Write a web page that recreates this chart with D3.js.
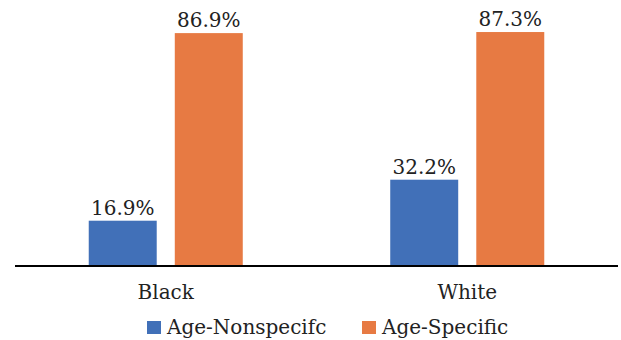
<!DOCTYPE html>
<html>
<head>
<meta charset="utf-8">
<script src="https://cdn.jsdelivr.net/npm/d3@7"></script>
<style>
  body { margin: 0; background: #fff; }
</style>
</head>
<body>
<svg id="chart" width="621" height="340" font-family="'DejaVu Serif', serif"></svg>
<script>
const categories = ['Black', 'White'];
const series = ['Age-Nonspecifc', 'Age-Specific'];
const nonspecific = [16.9, 32.2];
const specific = [86.9, 87.3];
const colors = ['#4170b8', '#e77a43'];

const svg = d3.select('#chart');
const left = 15, right = 618, baseline = 266;
const fontSize = 20;

const rows = categories.map((c, i) => ({ cat: c, values: [nonspecific[i], specific[i]] }));

const x0 = d3.scaleBand().domain(categories).range([left, right]).padding(0);
const x1 = d3.scaleBand().domain(series).range([0, x0.bandwidth()])
  .paddingInner(0.21).paddingOuter(0.857);
const y = d3.scaleLinear().domain([0, 100]).range([baseline, baseline - 268]);

const groups = svg.selectAll('.group')
  .data(rows)
  .enter()
  .append('g')
  .attr('class', 'group')
  .attr('transform', d => `translate(${x0(d.cat)},0)`);

groups.selectAll('rect')
  .data(d => d.values.map((v, i) => ({ key: series[i], value: v, i })))
  .enter()
  .append('rect')
  .attr('x', d => x1(d.key))
  .attr('y', d => y(d.value))
  .attr('width', x1.bandwidth())
  .attr('height', d => baseline - y(d.value))
  .attr('fill', d => colors[d.i]);

groups.selectAll('.val')
  .data(d => d.values.map((v, i) => ({ key: series[i], value: v })))
  .enter()
  .append('text')
  .attr('class', 'val')
  .attr('x', d => x1(d.key) + x1.bandwidth() / 2)
  .attr('y', d => y(d.value) - 6)
  .attr('text-anchor', 'middle')
  .attr('font-size', fontSize)
  .attr('fill', '#222')
  .text(d => `${d.value.toFixed(1)}%`);

svg.append('line')
  .attr('x1', left).attr('x2', right)
  .attr('y1', baseline).attr('y2', baseline)
  .attr('stroke', '#000')
  .attr('stroke-width', 2);

svg.selectAll('.cat')
  .data(categories)
  .enter()
  .append('text')
  .attr('class', 'cat')
  .attr('x', d => x0(d) + x0.bandwidth() / 2)
  .attr('y', 299)
  .attr('text-anchor', 'middle')
  .attr('font-size', fontSize)
  .attr('fill', '#222')
  .text(d => d);

const legendX = [147, 362];
const legend = svg.selectAll('.legend')
  .data(series)
  .enter()
  .append('g')
  .attr('class', 'legend')
  .attr('transform', (d, i) => `translate(${legendX[i]},321)`);

legend.append('rect')
  .attr('width', 14).attr('height', 13)
  .attr('fill', (d, i) => colors[i]);

legend.append('text')
  .attr('x', 20)
  .attr('y', 13)
  .attr('font-size', fontSize)
  .attr('fill', '#222')
  .text(d => d);
</script>
</body>
</html>
